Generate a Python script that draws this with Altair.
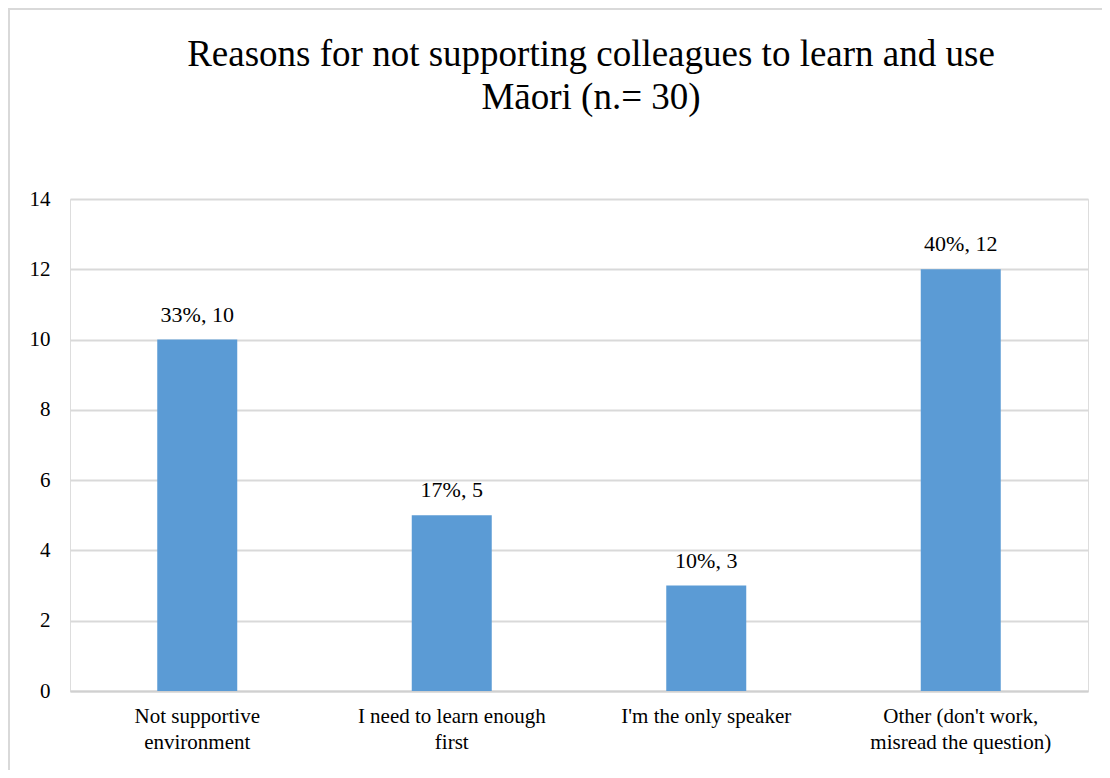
import altair as alt
import pandas as pd

categories = [
    "Not supportive\nenvironment",
    "I need to learn enough\nfirst",
    "I'm the only speaker",
    "Other (don't work,\nmisread the question)",
]
counts = [10, 5, 3, 12]
percents = ["33%", "17%", "10%", "40%"]
title_lines = ["Reasons for not supporting colleagues to learn and use", "Māori (n.= 30)"]

df = pd.DataFrame({
    "cat": categories,
    "count": counts,
    "label": [f"{p}, {c}" for p, c in zip(percents, counts)],
})

FONT = "'Liberation Serif', 'Times New Roman', Tinos, 'DejaVu Serif', serif"

x = alt.X(
    "cat:N",
    sort=categories,
    title=None,
    scale=alt.Scale(paddingInner=0, paddingOuter=0),
    axis=alt.Axis(
        labelAngle=0,
        labelExpr="split(datum.label, '\\n')",
        labelFont=FONT,
        labelFontSize=21,
        labelColor="#000000",
        labelPadding=14,
        labelLineHeight=26,
        labelLimit=400,
        ticks=False,
        domainColor="#D0D0D0",
        domainWidth=2,
        grid=False,
    ),
)
y = alt.Y(
    "count:Q",
    title=None,
    scale=alt.Scale(domain=[0, 14]),
    axis=alt.Axis(
        values=[0, 2, 4, 6, 8, 10, 12, 14],
        labelFont=FONT,
        labelFontSize=21,
        labelColor="#000000",
        labelPadding=20,
        ticks=False,
        domain=False,
        gridColor="#D9D9D9",
        gridWidth=2,
    ),
)

bars = alt.Chart(df).mark_bar(size=80, color="#5B9BD5").encode(x=x, y=y)
labels = alt.Chart(df).mark_text(
    baseline="bottom", dy=-13, font=FONT, fontSize=22, color="#000000"
).encode(x=x, y=y, text="label:N")

one = pd.DataFrame({"k": [0]})
border = alt.Chart(one).mark_rect(
    fillOpacity=0, stroke="#D9D9D9", strokeWidth=2, clip=False
).encode(
    x=alt.value(-61), x2=alt.value(1100), y=alt.value(-190), y2=alt.value(620)
)
title = alt.Chart(one).mark_text(
    text=title_lines,
    font=FONT,
    fontSize=37,
    color="#000000",
    align="center",
    baseline="alphabetic",
    lineHeight=43,
).encode(x=alt.value(521), y=alt.value(-133))

chart = alt.layer(border, bars, labels, title).properties(
    width=1018,
    height=492,
    autosize=alt.AutoSizeParams(type="none"),
    padding={"left": 62, "top": 191, "right": 14, "bottom": 79},
).configure_view(stroke=None).configure(background="white")

chart.save("out.html", embed_options={"renderer": "svg", "actions": False})
